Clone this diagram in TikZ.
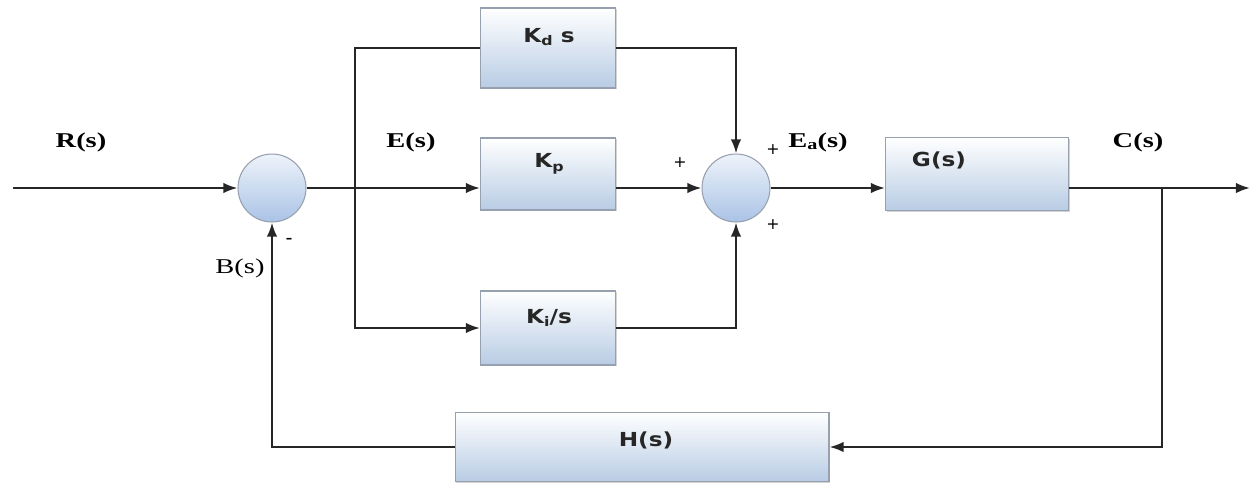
\documentclass[tikz,border=0pt]{standalone}
\usepackage{fontspec}
\setmainfont{Liberation Serif}
\setsansfont{DejaVu Sans}
\newfontfamily\lblfont[FakeStretch=1.35]{Liberation Serif}
\newfontfamily\boxfont[FakeStretch=1.2]{DejaVu Sans}
\usetikzlibrary{arrows.meta,shadows}
\definecolor{boxblue}{RGB}{184,204,228}
\definecolor{boxedge}{RGB}{150,160,175}
\definecolor{ballblue}{RGB}{170,195,230}
\newcommand\lowsub[1]{\raisebox{-0.35ex}{\fontsize{7.5}{8}\selectfont #1}}
\tikzset{
  blk/.style={draw=boxedge, line width=0.6pt, top color=white, bottom color=boxblue,
    drop shadow={shadow xshift=0.8pt, shadow yshift=-0.8pt, opacity=0.35}, inner sep=0pt},
  sumj/.style={circle, draw=boxedge, line width=0.6pt, top color=white!80!ballblue, bottom color=ballblue,
    minimum size=1.36cm, inner sep=0pt},
  btxt/.style={font=\boxfont\bfseries\fontsize{11}{13}\selectfont, text=black!85},
  lbl/.style={font=\lblfont\bfseries\fontsize{12}{14}\selectfont},
  sgn/.style={font=\sffamily\fontsize{9}{10}\selectfont},
  wire/.style={line width=1.3pt, black!85},
  arr/.style={wire, -{Latex[length=8pt,width=6pt]}}
}
\begin{document}
\begin{tikzpicture}[x=0.02cm, y=-0.02cm]
\useasboundingbox (0,0) rectangle (1257,485);
% junctions
\node[sumj] (s1) at (272,188) {};
\node[sumj] (s2) at (736,188) {};
% blocks
\node[blk, minimum width=2.7cm, minimum height=1.6cm] (kd) at (548,48) {};
\node[blk, minimum width=2.7cm, minimum height=1.44cm] (kp) at (548,174) {};
\node[blk, minimum width=2.7cm, minimum height=1.48cm] (ki) at (548,328) {};
\node[blk, minimum width=3.66cm, minimum height=1.46cm] (g) at (977,174) {};
\node[blk, minimum width=7.48cm, minimum height=1.38cm] (h) at (642,447) {};
% block texts
\node[btxt] (tkd) at (549,37) {K\lowsub{d} s};
\node[btxt] (tkp) at (549,164) {K\lowsub{p}};
\node[btxt] (tki) at (549,318) {K\lowsub{i}/s};
\node[btxt] (tg) at (939,160) {G(s)};
\node[btxt] (th) at (646,440) {H(s)};
% coordinates
\coordinate (in) at (13,188);
\coordinate (bp) at (355,188);
\coordinate (cp) at (1162,188);
\coordinate (out) at (1250,188);
% wires
\draw[arr] (in) -- (s1.west);
\draw[arr] (s1.east) -- (s1.east -| kp.west);
\draw[arr] (kd.west) -| (bp) |- (ki.west);
\draw[arr] (kd.east) -| (s2.north);
\draw[arr] (kp.east |- s2.west) -- (s2.west);
\draw[arr] (ki.east) -| (s2.south);
\draw[arr] (s2.east) -- (s2.east -| g.west);
\draw[arr] (g.east |- s2.east) -- (out);
\draw[arr] (cp) |- (h.east);
\draw[arr] (h.west) -| (s1.south);
% labels
\node[lbl] (lr) at (81,142) {R(s)};
\node[lbl] (le) at (411,142) {E(s)};
\node[lbl] (lea) at (818,142) {E\raisebox{-0.3ex}{\fontsize{8.5}{9}\selectfont a}(s)};
\node[lbl] (lc) at (1138,142) {C(s)};
\node[font=\lblfont\fontsize{12}{14}\selectfont] (lb) at (240,268) {B(s)};
\node[font=\sffamily\fontsize{11}{12}\selectfont] (m1) at (289,241) {-};
\node[sgn] (p1) at (680,163) {+};
\node[sgn] (p2) at (773,150) {+};
\node[sgn] (p3) at (773,225) {+};
\end{tikzpicture}
\end{document}
